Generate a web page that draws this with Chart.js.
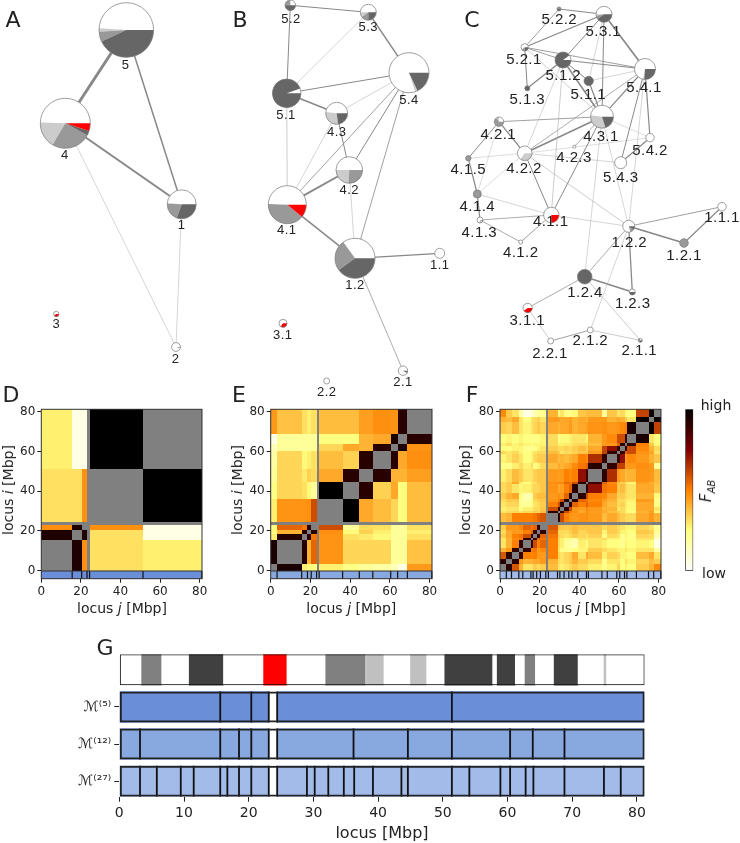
<!DOCTYPE html>
<html>
<head>
<meta charset="utf-8">
<title>Hierarchical chromatin modules</title>
<script src="https://cdn.jsdelivr.net/npm/chart.js@4"></script>
<style>
body { margin: 0; background: #fff; }
#page { position: relative; width: 740px; height: 843px; overflow: hidden; font-family: "DejaVu Sans"; color: #222; }
canvas { position: absolute; }
.txt { position: absolute; white-space: nowrap; transform: translate(-50%, -50%); }
.rot { transform: translate(-50%, -50%) rotate(-90deg); }
</style>
</head>
<body>
<div id="page"></div>
<script>
// =====================
// DATA
// =====================
// module borders in Mbp, the unmapped gap sits between gapStart and gapEnd
const gapStart = 23.1;
const gapEnd = 24.4;
const locusEnd = 81.2;
const m5Edges = [0, 15.6, 20.4, 23.1, 24.4, 51.4, 81.1];
const m12Edges = [0, 3.2, 15.6, 18.5, 20.4, 23.1, 24.4, 36.2, 44.6, 51.4, 60.4, 63.9, 68.8, 81.1];
const m27Edges = [0, 3.2, 5.8, 9.5, 11.5, 15.6, 16.7, 18.5, 20.4, 23.1, 24.4, 29, 30.2, 32.3, 34.7, 36.3, 39.2, 43.6, 44.6, 51.4, 54.1, 58.9, 60.4, 62.8, 64, 68.8, 74.9, 77.5, 81.1];

// contact strength (0 low .. 100 high), lower triangle, null on the diagonal
const m5Contacts = [
    [null],
    [94, null],
    [47, 94, null],
    [31, 31, 47, null],
    [28, 5, 5, 100, null]
];
const m12Contacts = [
    [null],
    [95, null],
    [28, 93, null],
    [25, 40, 92, null],
    [25, 55, 52, 92, null],
    [28, 46, 46, 47, 60, null],
    [24, 33, 31, 26, 20, 100, null],
    [20, 33, 29, 34, 32, 42, 92, null],
    [18, 33, 26, 28, 31, 38, 34, 92, null],
    [14, 20, 20, 20, 20, 33, 42, 40, 92, null],
    [5, 20, 20, 20, 20, 25, 25, 40, 42, 95, null],
    [45, 37, 31, 28, 31, 38, 38, 44, 47, 46, 92, null]
];
const m27Contacts = [
    [null],
    [92, null],
    [58, 92, null],
    [40, 45, 90, null],
    [30, 40, 50, 90, null],
    [30, 40, 48, 50, 90, null],
    [35, 42, 50, 52, 60, 90, null],
    [32, 42, 45, 45, 50, 55, 90, null],
    [35, 45, 45, 48, 55, 52, 55, 90, null],
    [38, 40, 50, 50, 50, 50, 52, 55, 58, null],
    [30, 32, 33, 30, 32, 32, 35, 33, 38, 92, null],
    [28, 30, 30, 24, 28, 28, 32, 32, 36, 60, 92, null],
    [30, 33, 33, 22, 20, 25, 30, 32, 35, 50, 60, 92, null],
    [32, 35, 35, 20, 18, 22, 32, 34, 36, 46, 50, 60, 92, null],
    [35, 40, 42, 25, 15, 20, 35, 38, 38, 45, 47, 45, 55, 92, null],
    [32, 35, 30, 27, 28, 30, 33, 33, 36, 46, 42, 44, 50, 55, 92, null],
    [32, 35, 42, 28, 25, 30, 30, 35, 36, 47, 48, 48, 55, 52, 60, 92, null],
    [28, 32, 38, 35, 30, 30, 34, 36, 36, 45, 44, 45, 50, 48, 50, 72, 88, null],
    [23, 23, 28, 32, 28, 32, 23, 27, 32, 38, 42, 40, 42, 44, 48, 52, 55, 92, null],
    [27, 30, 34, 30, 25, 27, 32, 35, 35, 42, 38, 40, 38, 40, 42, 50, 48, 66, 90, null],
    [33, 30, 32, 27, 25, 27, 30, 32, 32, 38, 35, 30, 32, 32, 34, 36, 36, 45, 62, 90, null],
    [25, 25, 27, 27, 22, 22, 23, 27, 30, 35, 32, 32, 34, 32, 35, 38, 34, 42, 62, 72, 90, null],
    [28, 31, 27, 30, 27, 25, 27, 27, 27, 32, 28, 28, 29, 29, 32, 33, 32, 38, 45, 45, 55, 92, null],
    [25, 27, 25, 27, 25, 23, 23, 25, 27, 32, 24, 26, 26, 28, 30, 30, 27, 40, 45, 48, 60, 60, 90, null],
    [35, 33, 38, 30, 27, 30, 33, 36, 33, 42, 40, 42, 42, 45, 40, 42, 44, 46, 47, 45, 46, 48, 50, 95, null],
    [40, 38, 42, 30, 25, 30, 32, 34, 30, 45, 44, 42, 42, 44, 40, 42, 40, 45, 45, 40, 43, 40, 35, 30, 98, null],
    [48, 35, 30, 18, 5, 8, 15, 20, 22, 40, 26, 30, 24, 22, 26, 36, 38, 38, 20, 36, 30, 32, 26, 25, 62, 98, null]
];

const heatTicks = [0, 20, 40, 60, 80];
const locusTicks = [0, 10, 20, 30, 40, 50, 60, 70, 80];

// chromosome bands, one kind per stretch between two edges
const bandEdges = [0, 3.45, 6.55, 10.8, 16.1, 22.3, 25.9, 31.9, 38.1, 38.2, 40.9, 45, 47.5, 50.3, 57.7, 58.4, 61.2, 62.7, 64.3, 67.2, 70.9, 74.9, 75.3, 81.2];
const bandKinds = ["gneg", "gpos50", "gneg", "gpos75", "gneg", "acen", "gneg", "gpos50", "gneg", "gpos25", "gneg", "gpos25", "gneg", "gpos75", "gneg", "gpos75", "gneg", "gpos50", "gneg", "gpos75", "gneg", "gpos25", "gneg"];
const moduleRows = ["", "ℳ⁽⁵⁾", "ℳ⁽¹²⁾", "ℳ⁽²⁷⁾"];

// networks: name, x, y, radius, slices [white, light, medium, dark, red], label x, label y
const nodesA = [
    ["5", 126.3, 30, 27.3, [49, 2, 6, 43, 0], 125.3, 65],
    ["4", 65.3, 123.3, 25, [49.5, 17, 25.5, 3, 5], 64.7, 155.3],
    ["1", 181.7, 204.3, 14.5, [48.5, 1, 20, 30.5, 0], 181.3, 225.7],
    ["3", 56.3, 314, 2.7, [60, 0, 0, 0, 40], 56, 324],
    ["2", 176, 347, 4.4, [97, 0, 0, 3, 0], 175.3, 359]
];
const edgesA = [
    ["5", "4", 3], ["5", "1", 1.5], ["4", "1", 2], ["4", "2", 0.5], ["1", "2", 0.5]
];
const nodesB = [
    ["5.2", 290.3, 5.3, 5.3, [25, 0, 25, 50, 0], 291, 19],
    ["5.3", 368.3, 12.3, 8, [50, 10, 15, 25, 0], 368.3, 27.7],
    ["5.4", 409, 72.7, 20, [80, 2, 0, 18, 0], 409, 100.7],
    ["5.1", 286.7, 93.3, 14.3, [5.5, 0, 0, 94.5, 0], 286, 115],
    ["4.3", 336.7, 113.3, 11, [48, 29, 0, 23, 0], 336.7, 132],
    ["4.2", 349.3, 170, 13.3, [50, 24, 26, 0, 0], 349.3, 190.3],
    ["4.1", 287.3, 204.7, 19, [49.5, 0, 39.5, 0, 11], 286.7, 230.7],
    ["1.2", 355, 258.3, 20, [35, 0, 25, 40, 0], 355, 285],
    ["1.1", 439.7, 253.3, 5, [100, 0, 0, 0, 0], 439.7, 265],
    ["3.1", 283, 323.3, 4, [65, 0, 0, 0, 35], 282.7, 335],
    ["2.1", 403, 370.7, 4.7, [92, 0, 0, 8, 0], 403, 382.7],
    ["2.2", 326.7, 381, 3, [100, 0, 0, 0, 0], 326.7, 392.7]
];
const edgesB = [
    ["5.2", "5.3", 1], ["5.2", "5.1", 1], ["5.3", "5.1", 0.5], ["5.3", "5.4", 1.5], ["5.1", "5.4", 1],
    ["5.1", "4.3", 1.5], ["5.1", "4.1", 0.6], ["4.3", "5.4", 0.5], ["4.3", "4.1", 0.5], ["4.3", "4.2", 1],
    ["4.2", "5.4", 1], ["4.2", "4.1", 2], ["4.1", "5.4", 0.8], ["4.1", "1.2", 1.5], ["4.2", "1.2", 0.5],
    ["5.4", "1.2", 0.8], ["1.2", "1.1", 1.3], ["1.2", "2.1", 0.7]
];
const nodesC = [
    ["5.3.1", 604, 14.3, 8, [50, 3, 7, 40, 0], 603.3, 31.7],
    ["5.2.2", 559, 9, 2, [0, 0, 50, 50, 0], 559.3, 20],
    ["5.2.1", 524.7, 47.3, 3.7, [60, 0, 15, 25, 0], 524, 60],
    ["5.1.2", 563, 60, 8, [10, 0, 0, 90, 0], 563.3, 76],
    ["5.1.1", 588.7, 81, 4.7, [0, 0, 0, 100, 0], 588.3, 95],
    ["5.1.3", 527.3, 88.3, 2.5, [0, 0, 0, 100, 0], 527.3, 100],
    ["5.4.1", 645, 69, 10.5, [72, 2, 0, 26, 0], 644, 88],
    ["4.3.1", 602, 116.7, 11.5, [48, 32, 0, 20, 0], 601, 136.7],
    ["4.2.1", 499, 121.7, 4.7, [25, 10, 65, 0, 0], 498.3, 135],
    ["4.2.2", 524.7, 153.3, 7.3, [65, 35, 0, 0, 0], 524, 169.3],
    ["4.2.3", 574.3, 146.7, 1.5, [100, 0, 0, 0, 0], 574, 158.3],
    ["4.1.5", 468.3, 158.3, 2.7, [0, 0, 100, 0, 0], 468.3, 170],
    ["4.1.4", 477.3, 194, 4, [0, 0, 100, 0, 0], 477.3, 207.3],
    ["4.1.3", 480, 220, 3, [70, 20, 10, 0, 0], 479.3, 232.7],
    ["4.1.2", 520.7, 242, 2, [100, 0, 0, 0, 0], 520.7, 253.3],
    ["4.1.1", 551.3, 215, 7.7, [75, 0, 0, 0, 25], 550.7, 221.7],
    ["5.4.2", 650, 137.7, 4.2, [100, 0, 0, 0, 0], 650, 150.7],
    ["5.4.3", 620.7, 162.7, 6, [100, 0, 0, 0, 0], 620.7, 177.7],
    ["1.2.2", 628.7, 226.3, 6, [80, 0, 10, 10, 0], 629.3, 242.7],
    ["1.2.1", 684, 243, 4.3, [0, 0, 100, 0, 0], 684, 255.7],
    ["1.1.1", 722, 206.7, 4.3, [100, 0, 0, 0, 0], 722, 218.3],
    ["1.2.3", 632.3, 292, 3, [50, 0, 0, 50, 0], 632.7, 303.7],
    ["1.2.4", 584.7, 276.7, 7.3, [0, 0, 0, 100, 0], 585, 292.7],
    ["3.1.1", 527.7, 308, 4.7, [60, 0, 0, 0, 40], 527.3, 321],
    ["2.2.1", 550.7, 341, 3, [100, 0, 0, 0, 0], 550, 353.7],
    ["2.1.2", 590.3, 330, 3, [100, 0, 0, 0, 0], 590.3, 341],
    ["2.1.1", 640.3, 340.3, 2, [30, 0, 40, 30, 0], 639.3, 351]
];
const edgesC = [
    ["5.2.2", "5.3.1", 1], ["5.2.2", "5.2.1", 0.8], ["5.2.1", "5.3.1", 1.2], ["5.2.1", "5.1.2", 0.8], ["5.2.1", "5.4.1", 0.8],
    ["5.2.1", "5.1.3", 1], ["5.2.1", "4.3.1", 0.6], ["5.1.2", "5.3.1", 1], ["5.1.2", "5.4.1", 1.2], ["5.1.2", "5.1.3", 1.3],
    ["5.1.2", "5.1.1", 1], ["5.1.2", "4.3.1", 1.5], ["5.1.2", "4.1.1", 0.6], ["5.1.2", "4.2.2", 0.5], ["5.1.1", "4.3.1", 1.2],
    ["5.1.1", "5.4.1", 0.5], ["5.1.1", "5.3.1", 0.5], ["5.3.1", "5.4.1", 1.7], ["5.3.1", "4.3.1", 1], ["5.4.1", "4.3.1", 1.2],
    ["5.4.1", "4.2.2", 0.7], ["5.4.1", "5.4.2", 1.2], ["5.4.1", "5.4.3", 1], ["5.4.1", "1.2.2", 0.5], ["4.3.1", "4.2.1", 0.8],
    ["4.3.1", "4.2.2", 1.5], ["4.3.1", "4.2.3", 0.7], ["4.3.1", "4.1.1", 1], ["4.3.1", "5.4.2", 0.4], ["4.3.1", "1.2.2", 0.5],
    ["4.3.1", "1.2.4", 0.5], ["4.2.2", "5.4.2", 0.4], ["4.2.2", "5.4.3", 0.5], ["4.2.2", "4.2.1", 1.3], ["4.2.2", "4.1.5", 0.4],
    ["4.2.2", "4.1.4", 0.4], ["4.2.2", "4.1.1", 1], ["4.2.2", "1.2.2", 0.6], ["4.2.1", "4.1.5", 1], ["4.2.1", "4.1.4", 0.4],
    ["4.1.5", "4.1.4", 1.2], ["4.1.4", "4.1.3", 1.2], ["4.1.4", "4.1.1", 0.5], ["4.1.3", "4.1.2", 0.7], ["4.1.3", "4.1.1", 0.7],
    ["4.1.2", "4.1.1", 0.8], ["4.1.1", "1.2.2", 0.5], ["5.4.2", "5.4.3", 1.3], ["1.2.2", "1.2.1", 1.7], ["1.2.2", "1.1.1", 0.8],
    ["1.2.1", "1.1.1", 1.2], ["1.2.2", "1.2.4", 0.7], ["1.2.2", "1.2.3", 1.3], ["1.2.2", "2.1.2", 0.5], ["1.2.4", "1.2.3", 1.5],
    ["1.2.4", "3.1.1", 0.7], ["1.2.4", "2.1.1", 0.6], ["3.1.1", "2.2.1", 0.6], ["2.2.1", "2.1.2", 0.8], ["2.1.2", "2.1.1", 0.6]
];

// =====================
// STYLES
// =====================
const sliceColors = ["#ffffff", "#cccccc", "#999999", "#666666", "#ff0000"];
const bandColors = { gneg: "#ffffff", gpos25: "#c0c0c0", gpos50: "#808080", gpos75: "#404040", acen: "#ff0000" };
const m5Blue = "#6a8fd8";
const m12Blue = "#88a8e0";
const m27Blue = "#a3bbe8";
const fontName = "DejaVu Sans";
const page = document.getElementById("page");

Chart.defaults.animation = false;
Chart.defaults.responsive = false;
Chart.defaults.font.family = fontName;
Chart.defaults.color = "#222";
Chart.defaults.plugins.legend.display = false;
Chart.defaults.plugins.tooltip.enabled = false;

// afmhot reversed, v goes from 0 to 1
function heatColor(v) {
    let t = 1 - v;
    let clip = x => Math.round(255 * Math.min(1, Math.max(0, x)));
    return `rgb(${clip(2 * t)},${clip(2 * t - 0.5)},${clip(2 * t - 1)})`;
}

function addCanvas(left, top, width, height) {
    let c = document.createElement("canvas");
    c.width = width;
    c.height = height;
    c.style.left = left + "px";
    c.style.top = top + "px";
    page.appendChild(c);
    return c;
}

function addText(html, x, y, size, rotated) {
    let d = document.createElement("div");
    d.className = rotated ? "txt rot" : "txt";
    d.innerHTML = html;
    d.style.left = x + "px";
    d.style.top = y + "px";
    d.style.fontSize = size + "px";
    page.appendChild(d);
}

// =====================
// NETWORKS (A, B, C)
// =====================
const pieLabels = {
    id: "pieLabels",
    afterDatasetsDraw(chart, args, opts) {
        let ctx = chart.ctx;
        let points = chart.getDatasetMeta(0).data;
        opts.nodes.forEach((n, i) => {
            let x = points[i].x, y = points[i].y, r = n[3];
            let angle = 0;
            n[4].forEach((part, k) => {
                if (part === 0) return;
                let next = angle + part / 100 * 2 * Math.PI;
                ctx.beginPath();
                ctx.moveTo(x, y);
                ctx.arc(x, y, r, -angle, -next, true);
                ctx.closePath();
                ctx.fillStyle = sliceColors[k];
                ctx.fill();
                angle = next;
            });
            ctx.beginPath();
            ctx.arc(x, y, r, 0, 2 * Math.PI);
            ctx.lineWidth = 0.7;
            ctx.strokeStyle = "#777";
            ctx.stroke();

            ctx.fillStyle = "#222";
            ctx.font = opts.size + "px 'Liberation Sans'";
            ctx.letterSpacing = opts.spacing + "px";
            ctx.textAlign = "center";
            ctx.textBaseline = "middle";
            ctx.fillText(n[0], chart.scales.x.getPixelForValue(n[5]), chart.scales.y.getPixelForValue(n[6]));
        });
    }
};

function drawNetwork(left, width, nodes, edges, labelSize, labelSpacing) {
    let height = 400;
    let byName = {};
    nodes.forEach(n => { byName[n[0]] = n; });

    let datasets = [{
        data: nodes.map(n => ({ x: n[1], y: n[2] })),
        pointRadius: nodes.map(n => n[3]),
        pointBackgroundColor: "#fff",
        pointBorderWidth: 0,
        showLine: false
    }];
    edges.forEach(e => {
        let a = byName[e[0]], b = byName[e[1]];
        datasets.push({
            data: [{ x: a[1], y: a[2] }, { x: b[1], y: b[2] }],
            showLine: true,
            pointRadius: 0,
            borderWidth: e[2],
            borderColor: e[2] < 0.7 ? "#aaaaaa" : "#888888"
        });
    });

    new Chart(addCanvas(left, 0, width, height), {
        type: "scatter",
        data: { datasets },
        options: {
            layout: { autoPadding: false, padding: 0 },
            scales: {
                x: { type: "linear", display: false, min: left, max: left + width },
                y: { type: "linear", display: false, min: 0, max: height, reverse: true }
            },
            plugins: { pieLabels: { nodes, size: labelSize, spacing: labelSpacing } }
        },
        plugins: [pieLabels]
    });
}

drawNetwork(0, 230, nodesA, edgesA, 13, 0);
drawNetwork(230, 220, nodesB, edgesB, 13, 0.5);
drawNetwork(450, 290, nodesC, edgesC, 15, 0.4);

// =====================
// CONTACT MAPS (D, E, F)
// =====================
function moduleSpans(edges) {
    let spans = [];
    for (let i = 0; i < edges.length - 1; i++) {
        if (edges[i] !== gapStart) spans.push([edges[i], edges[i + 1]]);
    }
    return spans;
}

const contactCells = {
    id: "contactCells",
    beforeDatasetsDraw(chart, args, opts) {
        let ctx = chart.ctx;
        let sx = chart.scales.x, sy = chart.scales.y;
        let px = v => Math.round(sx.getPixelForValue(v));
        let py = v => Math.round(sy.getPixelForValue(v));
        let spans = moduleSpans(opts.edges);
        let area = chart.chartArea;

        // grey under everything: diagonal and gap stay this colour
        ctx.fillStyle = "#808080";
        ctx.fillRect(area.left, area.top, area.right - area.left, area.bottom - area.top);

        opts.contacts.forEach((row, i) => {
            row.forEach((value, j) => {
                if (value === null) return;
                ctx.fillStyle = heatColor(value / 100);
                let a = spans[i], b = spans[j];
                ctx.fillRect(px(b[0]), py(a[1]), px(b[1]) - px(b[0]), py(a[0]) - py(a[1]));
                ctx.fillRect(px(a[0]), py(b[1]), px(a[1]) - px(a[0]), py(b[0]) - py(b[1]));
            });
        });

        // module strip under the map
        ctx.fillStyle = opts.strip;
        ctx.fillRect(area.left, py(0), area.right - area.left, area.bottom - py(0));
        ctx.strokeStyle = "#111";
        ctx.lineWidth = 1.2;
        opts.edges.slice(1).forEach(v => {
            ctx.beginPath();
            ctx.moveTo(sx.getPixelForValue(v), py(0));
            ctx.lineTo(sx.getPixelForValue(v), area.bottom);
            ctx.stroke();
        });
        ctx.lineWidth = 1;
        ctx.strokeStyle = "#333";
        ctx.beginPath();
        ctx.moveTo(area.left, py(0));
        ctx.lineTo(area.right, py(0));
        ctx.stroke();
        ctx.strokeRect(area.left, area.top, area.right - area.left, area.bottom - area.top);
    }
};

function heatAxis(width, height) {
    return {
        type: "linear",
        afterBuildTicks: s => { s.ticks = heatTicks.map(v => ({ value: v })); },
        afterFit: s => { if (width) s.width = width; if (height) s.height = height; },
        grid: { display: true, drawOnChartArea: false, tickLength: 4, tickWidth: 1, color: "#222" },
        border: { display: false },
        ticks: { font: { size: 12 }, padding: 2, maxRotation: 0, autoSkip: false }
    };
}

function drawMap(left, plotLeft, plotRight, edges, contacts, strip) {
    let top = 395, height = 215, plotTop = 409.3, plotBottom = 578.7;
    let width = plotRight + 12 - left;
    new Chart(addCanvas(left, top, width, height), {
        type: "scatter",
        data: { datasets: [{ data: [] }] },
        options: {
            layout: { autoPadding: false, padding: { top: plotTop - top, right: 12, bottom: 0, left: 0 } },
            scales: {
                x: { ...heatAxis(0, top + height - plotBottom), min: 0, max: locusEnd },
                y: { ...heatAxis(plotLeft - left, 0), min: -4, max: locusEnd }
            },
            plugins: { contactCells: { edges, contacts, strip } }
        },
        plugins: [contactCells]
    });
}

drawMap(0, 41.3, 202.3, m5Edges, m5Contacts, m5Blue);
drawMap(230, 270.7, 432.3, m12Edges, m12Contacts, m12Blue);
drawMap(460, 500, 661.3, m27Edges, m27Contacts, m27Blue);

// colour bar
(function () {
    let canvas = addCanvas(680, 405, 20, 170);
    let g = canvas.getContext("2d").createLinearGradient(0, 165.7, 0, 4.3);
    for (let i = 0; i <= 20; i++) g.addColorStop(i / 20, heatColor(i / 20));
    new Chart(canvas, {
        type: "bar",
        data: { labels: ["F"], datasets: [{ data: [[0, 1]], backgroundColor: g, borderColor: "#222", borderWidth: 1, borderSkipped: false, barPercentage: 1, categoryPercentage: 1 }] },
        options: {
            layout: { autoPadding: false, padding: { left: 5.3, right: 6.7, top: 4.3, bottom: 4.3 } },
            scales: {
                x: { display: false },
                y: { display: false, min: 0, max: 1 }
            }
        }
    });
})();

// =====================
// LOCUS TRACKS (G)
// =====================
(function () {
    let left = 40, top = 640, width = 620, height = 185;
    let plotLeft = 119.3, plotRight = 644.7, plotTop = 654.3, plotBottom = 796.7;
    let barHeight = 31;
    let reach = barHeight / 2 / 37.1;
    let markWidth = 0.14;

    let frameBar = y => ({ x: [0, locusEnd], y });
    let rowBars = (edges, y) => {
        let bars = [];
        for (let i = 0; i < edges.length - 1; i++) bars.push({ x: [edges[i], edges[i + 1]], y });
        return bars;
    };
    let rowMarks = (edges, y) => edges.slice(1, -1).map(v => ({ x: [v - markWidth, v + markWidth], y }));
    let rowColors = (edges, color) => edges.slice(1).map((v, i) => edges[i] === gapStart ? "#ffffff" : color);
    let bandBars = bandKinds.map((k, i) => ({ x: [bandEdges[i], bandEdges[i + 1]], y: 0 }));

    let shared = { barThickness: barHeight, borderSkipped: false, grouped: false, inflateAmount: 0.3, borderWidth: 0 };
    new Chart(addCanvas(left, top, width, height), {
        type: "bar",
        data: {
            datasets: [
                { ...shared, data: [frameBar(0)], backgroundColor: "transparent", borderColor: "#111", borderWidth: 1, inflateAmount: 0 },
                { ...shared, data: [frameBar(1), frameBar(2), frameBar(3)], backgroundColor: "transparent", borderColor: "#222", borderWidth: 2, inflateAmount: 0 },
                { ...shared, data: [...rowMarks(m5Edges, 1), ...rowMarks(m12Edges, 2), ...rowMarks(m27Edges, 3)], backgroundColor: "#111", inflateAmount: 0 },
                { ...shared, data: bandBars, backgroundColor: bandKinds.map(k => bandColors[k]) },
                { ...shared, data: rowBars(m5Edges, 1), backgroundColor: rowColors(m5Edges, m5Blue) },
                { ...shared, data: rowBars(m12Edges, 2), backgroundColor: rowColors(m12Edges, m12Blue) },
                { ...shared, data: rowBars(m27Edges, 3), backgroundColor: rowColors(m27Edges, m27Blue) }
            ]
        },
        options: {
            indexAxis: "y",
            layout: { autoPadding: false, padding: { top: plotTop - top, right: left + width - plotRight, bottom: 0, left: 0 } },
            scales: {
                x: {
                    type: "linear", min: 0, max: locusEnd,
                    afterBuildTicks: s => { s.ticks = locusTicks.map(v => ({ value: v })); },
                    afterFit: s => { s.height = top + height - plotBottom; },
                    grid: { display: true, drawOnChartArea: false, tickLength: 5, color: "#222" },
                    border: { display: false },
                    ticks: { font: { size: 14 }, padding: 3, maxRotation: 0, autoSkip: false }
                },
                y: {
                    type: "linear", min: -reach, max: 3 + reach, reverse: true, offset: false,
                    afterBuildTicks: s => { s.ticks = [1, 2, 3].map(v => ({ value: v })); },
                    afterFit: s => { s.width = plotLeft - left; },
                    grid: { display: true, offset: false, drawOnChartArea: false, tickLength: 5, color: "#222" },
                    border: { display: false },
                    ticks: { font: { size: 14 }, padding: 3, callback: v => moduleRows[v] }
                }
            }
        }
    });
})();

// =====================
// TEXT
// =====================
addText("A", 13, 19, 22);
addText("B", 240, 19, 22);
addText("C", 472, 19, 22);
addText("D", 11, 394, 22);
addText("E", 239, 394, 22);
addText("F", 472, 394, 22);
addText("G", 105, 647, 22);

addText("locus <i>j</i> [Mbp]", 122, 608, 14);
addText("locus <i>j</i> [Mbp]", 351.3, 608, 14);
addText("locus <i>j</i> [Mbp]", 580.7, 608, 14);
addText("locus <i>i</i> [Mbp]", 7.5, 490, 14, true);
addText("locus <i>i</i> [Mbp]", 237.3, 490, 14, true);
addText("locus <i>i</i> [Mbp]", 465, 490, 14, true);

addText("high", 716, 405, 14);
addText("low", 714, 573, 14);
addText("<i>F<sub style='font-size:10px'>AB</sub></i>", 706.7, 491, 15, true);
addText("locus [Mbp]", 382, 832, 16);
</script>
</body>
</html>
